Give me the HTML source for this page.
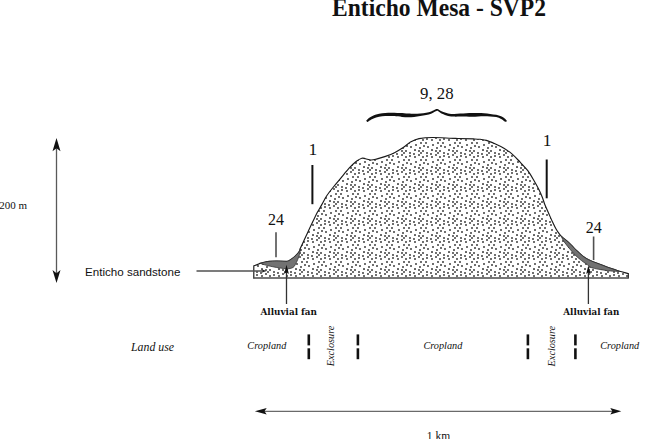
<!DOCTYPE html>
<html><head><meta charset="utf-8"><title>Enticho Mesa - SVP2</title>
<style>
html,body{margin:0;padding:0;background:#fff;width:660px;height:439px;overflow:hidden}
svg{display:block}
text{fill:#111}
.ser{font-family:"Liberation Serif",serif}
</style></head><body>
<svg width="660" height="439" viewBox="0 0 660 439">
<defs>
<pattern id="dots" patternUnits="userSpaceOnUse" x="423" y="185" width="17" height="17">
<g fill="#404040"><circle cx="0.0" cy="0.0" r="1.02"/><circle cx="0.0" cy="17.0" r="1.02"/><circle cx="17.0" cy="0.0" r="1.02"/><circle cx="17.0" cy="17.0" r="1.02"/><circle cx="13.0" cy="0.0" r="1.02"/><circle cx="13.0" cy="17.0" r="1.02"/><circle cx="4.0" cy="2.0" r="1.02"/><circle cx="8.0" cy="3.0" r="1.02"/><circle cx="15.0" cy="2.0" r="1.02"/><circle cx="4.0" cy="5.0" r="1.02"/><circle cx="9.0" cy="6.0" r="1.02"/><circle cx="13.0" cy="4.0" r="1.02"/><circle cx="0.0" cy="6.0" r="1.02"/><circle cx="17.0" cy="6.0" r="1.02"/><circle cx="3.0" cy="9.0" r="1.02"/><circle cx="10.0" cy="11.0" r="1.02"/><circle cx="15.0" cy="9.0" r="1.02"/><circle cx="1.0" cy="12.0" r="1.02"/><circle cx="18.0" cy="12.0" r="1.02"/><circle cx="5.0" cy="13.0" r="1.02"/><circle cx="14.0" cy="14.0" r="1.02"/><circle cx="9.0" cy="-1.0" r="1.02"/><circle cx="9.0" cy="16.0" r="1.02"/></g>
</pattern>
</defs>
<rect width="660" height="439" fill="#fff"/>
<text class="ser" x="332" y="16" font-size="24.3" font-weight="bold" textLength="214" lengthAdjust="spacingAndGlyphs">Enticho Mesa - SVP2</text>
<text class="ser" x="420.0" y="99.3" font-size="17.3" textLength="33.6" lengthAdjust="spacingAndGlyphs">9, 28</text>
<path d="M366.2,120.6 C366.9,120.0 368.5,118.3 370.1,117.3 C371.8,116.3 374.1,115.3 376.1,114.6 C378.1,113.9 380.2,113.6 382.2,113.3 C384.2,113.0 386.2,112.8 388.2,112.7 C390.2,112.6 392.3,112.7 394.3,112.7 C396.3,112.8 398.1,112.9 400.4,113.0 C402.7,113.1 405.8,113.4 408.1,113.5 C410.4,113.6 412.1,113.8 414.1,113.8 C416.1,113.8 418.2,113.7 420.2,113.5 C422.2,113.3 424.4,113.0 426.2,112.7 C428.0,112.4 429.7,112.0 431.1,111.5 C432.5,111.0 433.8,110.1 434.7,109.7 C435.6,109.3 436.0,108.9 436.6,108.9 C437.2,108.9 437.7,109.0 438.6,109.5 C439.5,110.0 440.5,110.9 442.1,111.6 C443.7,112.2 446.1,113.0 448.1,113.4 C450.1,113.8 452.2,113.9 454.2,113.9 C456.2,113.9 458.2,113.6 460.2,113.5 C462.2,113.4 464.3,113.3 466.3,113.2 C468.3,113.1 470.2,113.0 472.2,113.0 C474.2,113.0 476.1,113.0 478.1,113.0 C480.1,113.0 482.1,113.1 484.1,113.3 C486.1,113.5 488.2,113.7 490.2,113.9 C492.2,114.2 494.4,114.4 496.2,114.8 C498.0,115.2 499.7,115.7 501.1,116.3 C502.5,116.9 503.8,117.7 504.7,118.4 C505.6,119.1 506.4,120.2 506.8,120.6 C506.7,120.8 506.7,121.7 506.3,121.8 C505.9,121.9 505.6,121.9 504.7,121.4 C503.8,120.9 502.5,119.6 501.1,118.9 C499.7,118.2 498.0,117.5 496.2,117.1 C494.4,116.7 492.2,116.5 490.2,116.4 C488.2,116.3 486.1,116.3 484.1,116.3 C482.1,116.3 480.1,116.4 478.1,116.5 C476.1,116.6 474.2,116.8 472.2,116.8 C470.2,116.8 468.3,116.5 466.3,116.4 C464.3,116.4 462.2,116.5 460.2,116.5 C458.2,116.5 456.2,116.7 454.2,116.6 C452.2,116.5 450.1,116.5 448.1,116.0 C446.1,115.5 443.7,114.6 442.1,113.8 C440.5,113.0 439.5,111.9 438.6,111.4 C437.7,110.9 437.2,110.8 436.6,110.9 C436.0,111.0 435.6,111.3 434.7,111.8 C433.8,112.3 432.5,113.2 431.1,113.7 C429.7,114.2 428.0,114.5 426.2,114.9 C424.4,115.3 422.2,115.7 420.2,116.1 C418.2,116.5 416.1,116.9 414.1,117.1 C412.1,117.3 410.1,117.3 408.1,117.3 C406.1,117.3 404.3,117.1 402.0,116.9 C399.7,116.7 396.6,116.3 394.3,116.1 C392.0,115.9 390.2,115.9 388.2,115.9 C386.2,115.9 384.2,116.0 382.2,116.3 C380.2,116.5 377.9,116.9 376.1,117.4 C374.3,118.0 372.7,118.8 371.3,119.6 C369.9,120.3 368.5,121.7 367.6,121.9 C366.8,122.1 366.4,120.8 366.2,120.6 Z" fill="#111"/>
<text class="ser" x="308.6" y="154.7" font-size="17.5">1</text>
<text class="ser" x="542.7" y="146.2" font-size="17.5">1</text>
<line x1="312.4" y1="165" x2="312.4" y2="204.2" stroke="#111" stroke-width="2"/>
<line x1="546.7" y1="159.5" x2="546.7" y2="198.3" stroke="#111" stroke-width="2"/>
<text class="ser" x="268" y="224.7" font-size="16">24</text>
<text class="ser" x="585.8" y="232.9" font-size="16">24</text>
<line x1="276" y1="232.3" x2="276" y2="257.2" stroke="#505050" stroke-width="1.6"/>
<line x1="593.6" y1="236.5" x2="593.6" y2="260" stroke="#505050" stroke-width="1.6"/>
<path d="M253.8,278 L253.8,265.9 C254.6,265.6 256.8,264.8 257.8,264.4 C258.8,264.0 258.8,263.8 260.1,263.4 C261.4,263.0 263.9,262.3 265.4,262.0 C266.9,261.7 267.3,261.6 269.2,261.4 C271.1,261.2 274.2,261.0 276.7,261.0 C279.2,261.0 282.5,261.2 284.3,261.3 C286.1,261.4 286.3,261.6 287.3,261.3 C288.3,261.1 289.4,260.4 290.4,259.8 C291.4,259.2 292.4,258.4 293.4,257.6 C294.4,256.8 295.4,255.9 296.4,254.9 C297.4,253.9 298.6,252.5 299.3,251.4 C300.0,250.3 299.6,250.1 300.4,248.2 C301.2,246.3 302.9,242.9 304.2,240.1 C305.5,237.3 306.9,234.2 308.3,231.2 C309.7,228.2 311.0,225.4 312.5,222.3 C314.0,219.2 315.6,215.8 317.1,212.8 C318.7,209.9 320.2,207.5 321.8,204.6 C323.4,201.7 325.0,198.3 326.9,195.5 C328.8,192.7 330.8,190.2 333.0,187.5 C335.2,184.8 337.3,182.3 340.0,179.1 C342.7,175.9 346.4,171.2 349.1,168.2 C351.8,165.2 354.3,163.0 356.4,161.3 C358.5,159.6 360.3,158.6 361.8,158.2 C363.3,157.8 364.0,158.4 365.5,158.7 C367.0,159.0 369.1,159.9 370.9,160.0 C372.7,160.1 374.0,159.7 376.4,159.1 C378.8,158.5 382.5,157.5 385.5,156.4 C388.5,155.3 391.5,154.2 394.5,152.7 C397.5,151.2 400.9,149.1 403.6,147.3 C406.3,145.5 408.3,143.2 410.9,141.8 C413.5,140.4 415.5,139.3 419.1,138.6 C422.7,137.9 426.6,137.5 432.7,137.5 C438.8,137.5 448.7,138.2 455.5,138.4 C462.3,138.6 469.5,138.8 473.6,138.9 C477.7,139.1 477.9,139.1 480.0,139.3 C482.1,139.6 484.0,139.7 486.4,140.4 C488.8,141.1 491.5,142.3 494.4,143.6 C497.3,144.9 501.0,146.6 503.9,148.3 C506.8,150.0 509.2,151.6 511.9,153.9 C514.6,156.2 517.2,159.1 519.9,161.9 C522.5,164.7 525.4,167.5 527.8,170.7 C530.2,173.9 532.3,177.8 534.2,181.0 C536.1,184.2 537.7,187.1 539.0,189.8 C540.3,192.5 541.2,194.5 542.2,197.0 C543.2,199.5 543.9,202.3 545.0,205.0 C546.1,207.7 547.4,210.5 548.6,213.2 C549.8,215.9 551.0,218.7 552.3,221.4 C553.6,224.1 555.0,227.2 556.2,229.3 C557.4,231.4 558.4,232.7 559.3,233.9 C560.2,235.1 560.7,235.6 561.4,236.3 C562.1,237.0 562.2,237.1 563.5,238.2 C564.8,239.2 567.0,240.9 568.9,242.6 C570.8,244.3 572.9,246.9 574.6,248.6 C576.3,250.3 577.6,251.4 579.1,252.8 C580.6,254.2 582.2,255.7 583.7,256.8 C585.2,257.9 586.7,258.8 588.2,259.6 C589.8,260.4 591.0,260.9 593.0,261.7 C595.0,262.5 597.6,263.4 599.9,264.3 C602.2,265.2 604.6,266.1 606.9,267.0 C609.2,267.9 611.8,268.7 613.9,269.4 C616.0,270.1 617.1,270.6 619.5,271.3 C621.9,272.0 626.8,273.1 628.3,273.5 L628.3,278 Z" fill="url(#dots)"/>
<path d="M253.8,278.5 L253.8,265.9 C254.6,265.6 256.8,264.8 257.8,264.4 C258.8,264.0 258.8,263.8 260.1,263.4 C261.4,263.0 263.9,262.3 265.4,262.0 C266.9,261.7 267.3,261.6 269.2,261.4 C271.1,261.2 274.2,261.0 276.7,261.0 C279.2,261.0 282.5,261.2 284.3,261.3 C286.1,261.4 286.3,261.6 287.3,261.3 C288.3,261.1 289.4,260.4 290.4,259.8 C291.4,259.2 292.4,258.4 293.4,257.6 C294.4,256.8 295.4,255.9 296.4,254.9 C297.4,253.9 298.6,252.5 299.3,251.4 C300.0,250.3 299.6,250.1 300.4,248.2 C301.2,246.3 302.9,242.9 304.2,240.1 C305.5,237.3 306.9,234.2 308.3,231.2 C309.7,228.2 311.0,225.4 312.5,222.3 C314.0,219.2 315.6,215.8 317.1,212.8 C318.7,209.9 320.2,207.5 321.8,204.6 C323.4,201.7 325.0,198.3 326.9,195.5 C328.8,192.7 330.8,190.2 333.0,187.5 C335.2,184.8 337.3,182.3 340.0,179.1 C342.7,175.9 346.4,171.2 349.1,168.2 C351.8,165.2 354.3,163.0 356.4,161.3 C358.5,159.6 360.3,158.6 361.8,158.2 C363.3,157.8 364.0,158.4 365.5,158.7 C367.0,159.0 369.1,159.9 370.9,160.0 C372.7,160.1 374.0,159.7 376.4,159.1 C378.8,158.5 382.5,157.5 385.5,156.4 C388.5,155.3 391.5,154.2 394.5,152.7 C397.5,151.2 400.9,149.1 403.6,147.3 C406.3,145.5 408.3,143.2 410.9,141.8 C413.5,140.4 415.5,139.3 419.1,138.6 C422.7,137.9 426.6,137.5 432.7,137.5 C438.8,137.5 448.7,138.2 455.5,138.4 C462.3,138.6 469.5,138.8 473.6,138.9 C477.7,139.1 477.9,139.1 480.0,139.3 C482.1,139.6 484.0,139.7 486.4,140.4 C488.8,141.1 491.5,142.3 494.4,143.6 C497.3,144.9 501.0,146.6 503.9,148.3 C506.8,150.0 509.2,151.6 511.9,153.9 C514.6,156.2 517.2,159.1 519.9,161.9 C522.5,164.7 525.4,167.5 527.8,170.7 C530.2,173.9 532.3,177.8 534.2,181.0 C536.1,184.2 537.7,187.1 539.0,189.8 C540.3,192.5 541.2,194.5 542.2,197.0 C543.2,199.5 543.9,202.3 545.0,205.0 C546.1,207.7 547.4,210.5 548.6,213.2 C549.8,215.9 551.0,218.7 552.3,221.4 C553.6,224.1 555.0,227.2 556.2,229.3 C557.4,231.4 558.4,232.7 559.3,233.9 C560.2,235.1 560.7,235.6 561.4,236.3 C562.1,237.0 562.2,237.1 563.5,238.2 C564.8,239.2 567.0,240.9 568.9,242.6 C570.8,244.3 572.9,246.9 574.6,248.6 C576.3,250.3 577.6,251.4 579.1,252.8 C580.6,254.2 582.2,255.7 583.7,256.8 C585.2,257.9 586.7,258.8 588.2,259.6 C589.8,260.4 591.0,260.9 593.0,261.7 C595.0,262.5 597.6,263.4 599.9,264.3 C602.2,265.2 604.6,266.1 606.9,267.0 C609.2,267.9 611.8,268.7 613.9,269.4 C616.0,270.1 617.1,270.6 619.5,271.3 C621.9,272.0 626.8,273.1 628.3,273.5 L628.3,278.5" fill="none" stroke="#1a1a1a" stroke-width="1.15"/>
<line x1="253.3" y1="278" x2="628.4" y2="278" stroke="#4a4a4a" stroke-width="1.5"/>
<path d="M260.1,263.4 C261.0,263.2 263.9,262.3 265.4,262.0 C266.9,261.7 267.3,261.6 269.2,261.4 C271.1,261.2 274.2,261.0 276.7,261.0 C279.2,261.0 282.5,261.2 284.3,261.3 C286.1,261.4 286.3,261.6 287.3,261.3 C288.3,261.1 289.4,260.4 290.4,259.8 C291.4,259.2 292.4,258.4 293.4,257.6 C294.4,256.8 295.4,255.9 296.4,254.9 C297.4,253.9 298.6,252.5 299.3,251.4 C300.0,250.3 300.2,248.7 300.4,248.2 C300.3,248.9 300.3,250.8 300.0,252.3 C299.7,253.8 299.3,255.3 298.7,257.0 C298.1,258.7 297.1,260.9 296.4,262.5 C295.6,264.1 294.9,265.5 294.2,266.4 C293.4,267.3 292.9,267.6 291.9,268.0 C290.9,268.4 289.1,268.7 288.1,268.8 C287.1,268.9 286.9,268.9 285.8,268.8 C284.7,268.7 282.8,268.4 281.3,268.2 C279.8,268.0 278.7,267.9 276.7,267.5 C274.7,267.1 271.1,266.4 269.2,266.0 C267.3,265.6 266.9,265.4 265.4,265.0 C263.9,264.6 261.0,263.6 260.1,263.3 Z" fill="#727272" stroke="#333" stroke-width="0.8"/>
<path d="M561.4,236.3 C561.8,236.6 562.2,237.1 563.5,238.2 C564.8,239.2 567.0,240.9 568.9,242.6 C570.8,244.3 572.9,246.9 574.6,248.6 C576.3,250.3 577.6,251.4 579.1,252.8 C580.6,254.2 582.2,255.7 583.7,256.8 C585.2,257.9 586.7,258.8 588.2,259.6 C589.8,260.4 591.0,260.9 593.0,261.7 C595.0,262.5 597.6,263.4 599.9,264.3 C602.2,265.2 604.6,266.1 606.9,267.0 C609.2,267.9 611.8,268.7 613.9,269.4 C616.0,270.1 618.6,271.0 619.5,271.3 C618.6,271.3 616.0,271.3 613.9,271.2 C611.8,271.1 609.2,270.9 606.9,270.6 C604.6,270.3 602.2,269.9 599.9,269.5 C597.6,269.1 594.6,268.5 593.0,268.1 C591.4,267.7 591.2,267.5 590.2,266.9 C589.2,266.3 588.4,265.4 587.3,264.6 C586.2,263.8 585.1,263.2 583.7,262.2 C582.3,261.2 580.6,259.9 579.1,258.6 C577.6,257.3 576.1,256.1 574.6,254.5 C573.1,252.9 571.4,250.8 570.0,249.2 C568.6,247.6 567.6,246.3 566.5,244.9 C565.4,243.5 564.4,242.4 563.5,241.0 C562.6,239.6 561.8,237.1 561.4,236.3 Z" fill="#727272" stroke="#333" stroke-width="0.8"/>
<!-- sandstone pointer -->
<line x1="196.5" y1="271" x2="263" y2="271" stroke="#505050" stroke-width="1.5"/>
<path d="M266.6,271.0 L261.5,269.3 L263.0,271.0 L261.5,272.7 Z" fill="#222"/>
<text x="85" y="275.6" font-family="Liberation Sans, sans-serif" font-size="11.6" fill="#222">Enticho sandstone</text>
<!-- alluvial fan arrows -->
<line x1="286.5" y1="304" x2="286.5" y2="272" stroke="#333" stroke-width="1.3"/>
<path d="M286.5,264.8 L284.1,274.0 L286.5,272.2 L288.9,274.0 Z" fill="#111"/>
<line x1="588.4" y1="304" x2="588.4" y2="272" stroke="#333" stroke-width="1.3"/>
<path d="M588.4,265.3 L586.2,274.0 L588.4,272.2 L590.6,274.0 Z" fill="#111"/>
<text x="260.5" y="314.6" font-family="DejaVu Serif, serif" font-weight="bold" font-size="9" fill="#222" textLength="56.5" lengthAdjust="spacingAndGlyphs">Alluvial fan</text>
<text x="563.3" y="314.6" font-family="DejaVu Serif, serif" font-weight="bold" font-size="9" fill="#222" textLength="56" lengthAdjust="spacingAndGlyphs">Alluvial fan</text>
<!-- 200 m + vertical arrow -->
<text class="ser" x="-0.8" y="208.7" font-size="11">200 m</text>
<line x1="56.5" y1="147" x2="56.5" y2="274" stroke="#595959" stroke-width="1.3"/>
<path d="M56.5,138.1 L52.5,151.2 L56.5,148.3 L60.5,151.2 Z" fill="#111"/>
<path d="M56.5,282.9 L52.5,269.9 L56.5,273.2 L60.5,269.9 Z" fill="#111"/>
<!-- land use -->
<g class="ser" font-style="italic" font-size="11.3" lengthAdjust="spacingAndGlyphs">
<text x="131" y="350.8" font-size="12.8" textLength="43" lengthAdjust="spacingAndGlyphs">Land use</text>
<text x="247.3" y="348.8" textLength="39" lengthAdjust="spacingAndGlyphs">Cropland</text>
<text x="423.4" y="348.6" textLength="39" lengthAdjust="spacingAndGlyphs">Cropland</text>
<text x="600.2" y="348.6" textLength="39" lengthAdjust="spacingAndGlyphs">Cropland</text>
<text transform="translate(334.4,366.2) rotate(-90)" font-size="10.8" textLength="40.5" lengthAdjust="spacingAndGlyphs">Exclosure</text>
<text transform="translate(555.2,366.4) rotate(-90)" font-size="10.8" textLength="40.5" lengthAdjust="spacingAndGlyphs">Exclosure</text>
</g>
<g stroke="#111" stroke-width="2.6">
<line x1="308.8" y1="334.4" x2="308.8" y2="345.4"/><line x1="308.8" y1="348.3" x2="308.8" y2="359.2"/>
<line x1="357.9" y1="334.4" x2="357.9" y2="345.4"/><line x1="357.9" y1="348.3" x2="357.9" y2="359.2"/>
<line x1="527.9" y1="334.4" x2="527.9" y2="345.4"/><line x1="527.9" y1="348.3" x2="527.9" y2="359.2"/>
<line x1="575.4" y1="334.4" x2="575.4" y2="345.4"/><line x1="575.4" y1="348.3" x2="575.4" y2="359.2"/>
</g>
<!-- 1 km -->
<line x1="263" y1="411.4" x2="614" y2="411.4" stroke="#6a6a6a" stroke-width="1.3"/>
<path d="M254.9,411.3 L266.7,408.1 L264.5,411.3 L266.7,414.5 Z" fill="#111"/>
<path d="M621.3,411.3 L610.3,408.1 L612.3,411.3 L610.3,414.5 Z" fill="#111"/>
<text class="ser" x="426.8" y="440.3" font-size="11.5">1 km</text>
</svg>
</body></html>
